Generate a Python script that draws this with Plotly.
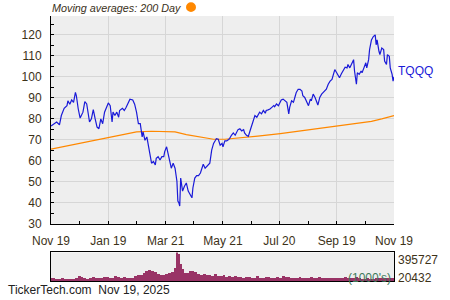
import plotly.graph_objects as go
import pandas as pd
import numpy as np

START = "2024-11-19"

# TQQQ closing prices (day offset from START, value)
price_day_offsets = [0, 6, 9, 11, 14, 17, 18, 20, 22, 24, 26, 27, 29, 31, 34, 36, 38, 40, 41, 43,
                     45, 47, 49, 51, 53, 55, 57, 61, 63, 65, 66, 68, 70, 72, 73, 76, 78, 80, 82, 84,
                     87, 89,
                     91, 93, 95, 97, 98, 100, 102, 104, 105, 107, 109, 111, 112, 114, 116, 118, 120, 121, 123, 125,
                     127, 128, 130, 132, 134, 135, 136, 137, 138, 140, 142, 144, 146, 148, 150, 151, 153, 155, 157, 159,
                     160, 162, 164, 166, 167, 169, 171, 173, 175, 176, 178, 180,
                     182, 183, 185, 187, 189, 190, 192, 194, 196, 198, 199, 201, 203, 205, 206, 208, 210, 212, 214, 215,
                     217, 219, 221, 222, 224, 226, 228, 229, 231, 233, 235, 237, 238, 240, 242, 244, 245, 247, 249, 251,
                     253, 254, 256, 258, 260, 261, 263, 265, 267, 268,
                     270, 272, 274, 276, 277, 279, 281, 284, 286, 288, 291, 293, 295, 297, 299, 300, 302, 304, 306, 307,
                     309, 311, 313, 315, 316, 318, 320, 322, 323, 325, 326, 328, 330, 331, 333, 335, 336, 338, 339, 341,
                     343, 345, 346, 347, 349, 350, 352, 354, 355, 357, 358, 360, 361, 363, 364, 365]
price_values = [76.6, 78.5, 77.2, 81.6, 85.0, 86.3, 88.6, 87.0, 89.0, 87.9, 92.6, 91.0, 84.7, 80.4, 83.2, 88.2, 87.1, 81.6, 78.5, 80.0,
                84.4, 80.0, 76.1, 75.3, 80.0, 77.7, 83.2, 87.6, 86.3, 78.5, 83.2, 81.6, 83.2, 80.8, 84.0, 85.0, 84.0, 85.5, 87.9, 89.4,
                89.0, 87.0,
                83.2, 77.7, 77.7, 71.4, 73.8, 69.8, 71.4, 66.7, 64.4, 58.9, 59.7, 58.1, 61.2, 62.0, 60.4, 62.0, 62.0, 64.4, 66.7, 62.0,
                57.3, 56.5, 58.9, 56.5, 50.3, 40.9, 40.1, 38.5, 51.8, 45.6, 47.9, 49.5, 45.6, 44.0, 42.4, 47.1, 51.8, 53.0, 53.0, 54.2,
                55.3, 58.4, 56.5, 57.3, 58.1, 58.9, 65.1, 68.3, 69.8, 70.6, 70.3, 67.5,
                68.3, 66.7, 69.5, 69.5, 70.2, 70.6, 72.2, 73.3, 72.2, 73.8, 74.9, 75.3, 74.3, 74.9, 73.3, 72.2, 71.7, 74.6, 77.7, 78.5,
                81.6, 80.8, 82.4, 83.2, 82.4, 84.0, 82.7, 84.0, 84.3, 84.7, 85.5, 86.3, 85.8, 87.1, 86.3, 87.9, 89.0, 89.4, 88.6, 87.9,
                82.4, 85.5, 88.6, 87.9, 91.0, 92.6, 94.1, 94.1, 93.3, 91.0,
                90.2, 87.9, 86.3, 89.4, 88.6, 91.8, 90.2, 86.6, 90.2, 91.8, 93.3, 94.1, 96.5, 98.0, 98.8, 100.4, 103.5, 102.0, 100.4, 99.6,
                101.5, 102.8, 104.6, 104.3, 105.9, 104.3, 106.2, 108.2, 102.8, 96.5, 102.0, 101.2, 102.8, 102.0, 104.3, 106.7, 104.3, 108.2, 113.0, 117.6,
                119.2, 120.0, 115.3, 117.6, 112.2, 110.6, 113.7, 113.0, 107.5, 105.9, 110.6, 109.8, 104.3, 101.2, 98.0, 100.0]

# 200-day moving average
ma_day_offsets = [0, 30, 60, 91, 107, 132, 144, 160, 173, 185, 200, 220, 244, 270, 290, 306, 325, 341, 352, 365]
ma_values = [65.6, 68.3, 71.0, 73.8, 74.1, 73.8, 72.5, 71.2, 70.3, 70.3, 70.8, 71.8, 73.0, 74.6, 75.8, 76.9, 77.9, 78.8, 80.0, 81.6]

# Volume (1000's)
vol_day_offsets = [0, 3, 6, 9, 12, 15, 18, 21, 24, 27, 30, 33, 36, 39, 42, 45, 48, 51, 54, 57,
                   60, 63, 66, 69, 72, 75, 78, 81, 84, 87, 90, 93, 96, 99, 102, 105, 108, 111, 114, 117,
                   120, 123, 126, 129, 132, 134, 135, 136, 138, 140, 142, 145, 148, 151, 154, 157, 160, 163, 166, 169,
                   172, 175, 178, 181, 184, 187, 190, 193, 196, 199, 202, 205, 208, 211, 214, 217, 220, 223, 226, 229,
                   232, 235, 238, 241, 244, 247, 250, 253, 256, 259, 262, 265, 268, 271, 274, 277, 280, 283, 286, 289,
                   292, 295, 298, 301, 304, 307, 310, 313, 316, 319, 322, 325, 328, 331, 334, 337, 340, 343, 346, 349,
                   352, 355, 358, 361, 364]
vol_thousands = [52800, 59300, 46300, 47100, 52800, 39800, 46300, 45500, 46900, 52800,
                 78700, 65700, 52800, 46300, 59300, 65700, 58400, 52800, 59300, 72200,
                 65700, 59300, 60100, 85100, 65700, 59300, 65700, 58700, 52800, 59300,
                 85100, 91600, 98100, 124000, 149800, 162800, 143400, 136900, 104500, 98100,
                 98100, 104500, 124000, 136900, 188700, 395727, 253400, 369800, 240400, 175700,
                 124000, 117500, 149800, 149800, 136900, 111000, 98100, 104500, 91600, 98100,
                 85100, 104500, 85100, 85100, 91600, 72200, 85100, 72200, 78700, 65700,
                 72200, 59300, 72200, 65700, 59300, 58600, 78700, 59300, 59300, 65700,
                 72200, 59300, 58800, 65700, 59300, 85100, 65700, 72200, 59300, 59300,
                 59300, 65700, 52800, 59300, 59300, 72200, 59300, 58500, 65700, 59300,
                 59300, 52800, 59300, 60200, 52800, 59300, 59300, 72200, 59300, 52800,
                 59300, 65700, 52800, 46300, 46300, 52800, 46300, 46300, 52800, 59300,
                 59300, 52800, 59300, 52800, 59300]
vol_axis_min = 20432
vol_axis_max = 395727

x_tick_offsets = [0, 61, 122, 183, 243, 304, 365]
x_tick_labels = ["Nov 19", "Jan 19", "Mar 21", "May 21", "Jul 20", "Sep 19", "Nov 19"]
x_minor_offsets = [30, 91, 152, 213, 274, 335]

title_text = "Moving averages: 200 Day"
ticker = "TQQQ"
footer_text = "TickerTech.com  Nov 19, 2025"

start = pd.Timestamp(START)
def to_dates(offs):
    return [start + pd.Timedelta(days=int(o)) for o in offs]

DAY_MS = 86400000
vol_off_arr = np.array(vol_day_offsets)
vol_widths = np.append(np.diff(vol_off_arr), 3) * DAY_MS

FONT = "Liberation Sans, Arial, sans-serif"
TXT = "#3d3218"

fig = go.Figure()
fig.add_trace(go.Scatter(x=to_dates(ma_day_offsets), y=ma_values, mode="lines",
                         line=dict(color="#FF8800", width=1.2), xaxis="x", yaxis="y"))
fig.add_trace(go.Scatter(x=to_dates(price_day_offsets), y=price_values, mode="lines",
                         line=dict(color="#1a1ad8", width=1.2), xaxis="x", yaxis="y"))
fig.add_trace(go.Bar(x=to_dates(vol_day_offsets), y=vol_thousands, width=vol_widths,
                     marker=dict(color="#993366", line=dict(width=0)), xaxis="x2", yaxis="y2"))

xr = [start, start + pd.Timedelta(days=365)]
fig.update_layout(
    width=450, height=300,
    margin=dict(l=51, r=56, t=16, b=15),
    paper_bgcolor="white", plot_bgcolor="#EEEEEE",
    showlegend=False, bargap=0,
    font=dict(family=FONT, size=12, color=TXT),
    xaxis=dict(domain=[0, 1], anchor="y", range=xr,
               tickvals=to_dates(x_tick_offsets), ticktext=x_tick_labels,
               ticks="inside", ticklen=3, tickcolor="black",
               minor=dict(tickvals=to_dates(x_minor_offsets), ticks="inside", ticklen=3,
                          tickcolor="black", showgrid=False),
               showgrid=True, gridcolor="#D6D6D6", gridwidth=1,
               showline=True, linecolor="black", linewidth=1,
               tickfont=dict(family=FONT, size=12, color=TXT),
               ticklabelstandoff=6, zeroline=False),
    yaxis=dict(domain=[0.2156, 1], anchor="x", range=[30, 129],
               tickvals=[30, 40, 50, 60, 70, 80, 90, 100, 110, 120],
               ticks="inside", ticklen=3, tickcolor="black",
               minor=dict(dtick=5, ticks="inside", ticklen=3, tickcolor="black", showgrid=False),
               showgrid=True, gridcolor="#D6D6D6", gridwidth=1,
               showline=True, linecolor="black", linewidth=1,
               tickfont=dict(family=FONT, size=12, color=TXT),
               ticklabelstandoff=6, zeroline=False),
    xaxis2=dict(domain=[0, 1], anchor="y2", range=xr, showticklabels=False, ticks="",
                showgrid=False, showline=True, mirror=True, linecolor="black", linewidth=1,
                zeroline=False),
    yaxis2=dict(domain=[0, 0.1078], anchor="x2", range=[vol_axis_min, vol_axis_max],
                showticklabels=False, ticks="", showgrid=False, showline=True, mirror=True,
                linecolor="black", linewidth=1, zeroline=False),
)

fig.add_annotation(text=title_text, xref="paper", yref="paper", x=-0.003, y=1.0297,
                   xanchor="left", yanchor="middle", showarrow=False,
                   font=dict(family=FONT, size=10.8, color="#3a3020", style="italic"))
fig.add_shape(type="circle", xref="paper", yref="paper",
              x0=0.3936, x1=0.4227, y0=1.0149, y1=1.052,
              fillcolor="#FF8800", line=dict(color="#FF8800", width=0))
fig.add_annotation(text=ticker, xref="paper", yref="y", x=1.006, y=price_values[-1],
                   xanchor="left", yanchor="middle", yshift=6, showarrow=False,
                   font=dict(family=FONT, size=12, color="#1a1ad8"))
fig.add_annotation(text=str(vol_axis_max), xref="paper", yref="y2 domain", x=1.006, y=1.0,
                   xanchor="left", yanchor="top", yshift=1, showarrow=False,
                   font=dict(family=FONT, size=12, color=TXT))
fig.add_annotation(text=str(vol_axis_min), xref="paper", yref="y2 domain", x=1.006, y=0.114,
                   xanchor="left", yanchor="middle", showarrow=False,
                   font=dict(family=FONT, size=12, color=TXT))
fig.add_annotation(text="(1000's)", xref="paper", yref="y2 domain", x=0.997, y=0.114,
                   xanchor="right", yanchor="middle", showarrow=False,
                   font=dict(family=FONT, size=12, color="#3f7a5c"))
fig.add_annotation(text=footer_text, xref="paper", yref="paper", x=-0.1312, y=-0.0335,
                   xanchor="left", yanchor="middle", showarrow=False,
                   font=dict(family=FONT, size=12, color="#222222"))

fig.write_html("out.html")
